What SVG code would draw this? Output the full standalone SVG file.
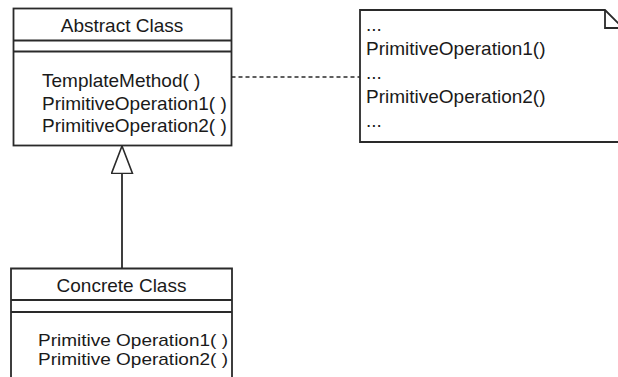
<svg xmlns="http://www.w3.org/2000/svg" width="618" height="377" viewBox="0 0 618 377">
<style>
.box{fill:#fff;stroke:#2a2a2a;stroke-width:1.8}
.ln{fill:none;stroke:#2a2a2a;stroke-width:1.8}
.dash{fill:none;stroke:#2a2a2a;stroke-width:1.6;stroke-dasharray:4 3}
text{font-family:"Liberation Sans",Arial,sans-serif;font-size:19px;fill:#1a1a1a}
.c{text-anchor:middle}
.sm{font-size:17px}
</style>
<defs>
<marker id="gen" markerUnits="userSpaceOnUse" markerWidth="30" markerHeight="24" refX="28" refY="11" orient="auto">
<path d="M0.5,0.5 L28,11 L0.5,21.5 Z" fill="#fff" stroke="#2a2a2a" stroke-width="1.6"/>
</marker>
</defs>
<rect width="618" height="377" fill="#fff"/>
<g id="connectors">
<path class="dash" d="M231.5,77 H360"/>
<path class="ln" d="M122,268 V146" marker-end="url(#gen)"/>
</g>
<g id="abstract-class">
<rect class="box" x="13.5" y="8.5" width="218" height="137"/>
<path class="ln" d="M13.5,40.5 H231.5 M13.5,51.5 H231.5"/>
<text class="c" x="122" y="32">Abstract Class</text>
<text x="42" y="87">TemplateMethod( )</text>
<text x="42" y="110">PrimitiveOperation1( )</text>
<text x="42" y="132">PrimitiveOperation2( )</text>
</g>
<g id="note">
<path class="box" d="M360,10 H605 L623,28 V142 H360 Z"/>
<path class="ln" d="M605,10 V28 H623"/>
<text x="366" y="31">...</text>
<text x="366" y="55">PrimitiveOperation1()</text>
<text x="366" y="79">...</text>
<text x="366" y="103">PrimitiveOperation2()</text>
<text x="366" y="127">...</text>
</g>
<g id="concrete-class">
<path class="box" d="M11,380 V268.5 H232 V380"/>
<path class="ln" d="M11,300 H232 M11,312 H232"/>
<text class="c" x="121.5" y="292">Concrete Class</text>
<text class="sm" x="38" y="346" textLength="190" lengthAdjust="spacingAndGlyphs">Primitive Operation1( )</text>
<text class="sm" x="38" y="365" textLength="190" lengthAdjust="spacingAndGlyphs">Primitive Operation2( )</text>
</g>
</svg>
